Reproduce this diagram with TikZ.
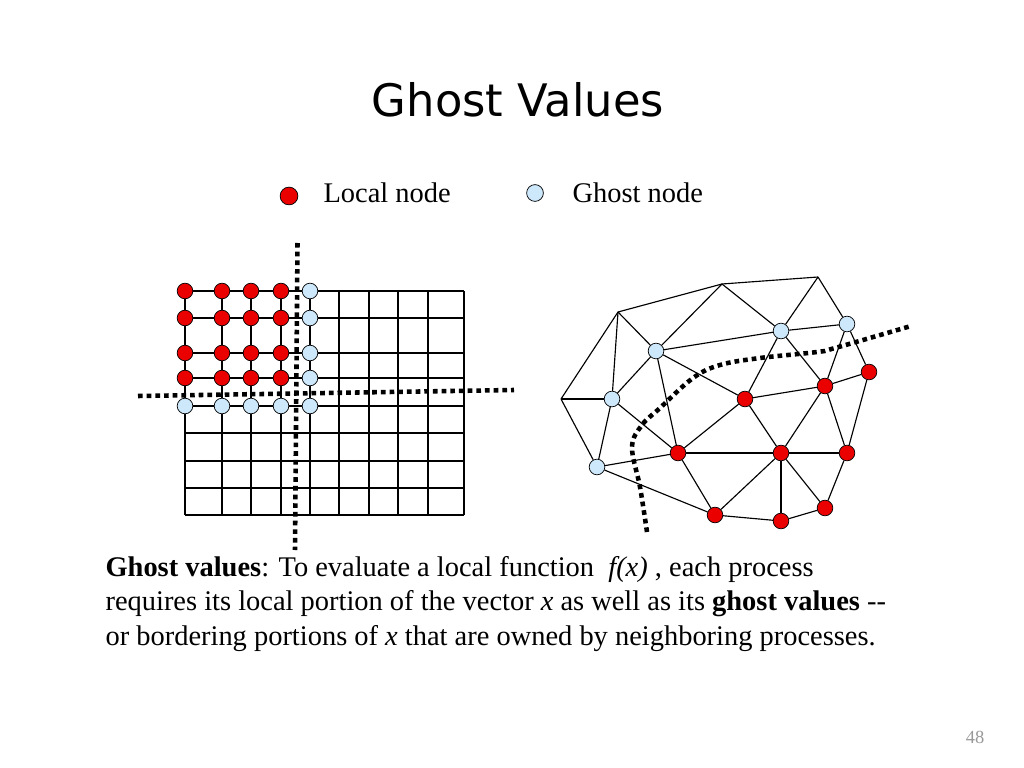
\documentclass[tikz,border=0pt]{standalone}
\usepackage{fontspec}
\setmainfont{Liberation Serif}
\newfontfamily\titlefont{DejaVu Sans}
\usetikzlibrary{calc}
\definecolor{ghostblue}{RGB}{204,232,250}
\definecolor{localred}{RGB}{235,0,0}
\tikzset{
	localnode/.style={circle, draw=black, line width=0.5pt, fill=localred, minimum size=11pt, inner sep=0pt},
	ghostnode/.style={circle, draw=black, line width=0.5pt, fill=ghostblue, minimum size=11pt, inner sep=0pt},
	cut/.style={line width=3.2pt, dash pattern=on 3.3pt off 2.8pt},
	txt/.style={inner sep=0pt, anchor=base west, font=\fontsize{20}{24}\selectfont}
}

\begin{document}
\begin{tikzpicture}[x=0.703125pt, y=-0.703125pt, line width=0.8pt]
	\useasboundingbox (0,0) rectangle (1024,768);
	\fill[white] (0,0) rectangle (1024,768);
	% title and legend
	\node[inner sep=0pt, anchor=base] (title) at (518,117) {\titlefont\fontsize{31.5}{36}\selectfont Ghost Values};
	\node[localnode, minimum size=12.5pt] (keyL) at (289,196) {};
	\node[txt] (keyLtext) at (323,203) {Local node};
	\node[ghostnode, minimum size=11.8pt] (keyG) at (535,193) {};
	\node[txt] (keyGtext) at (572,203) {Ghost node};
	% structured grid
	\foreach \x [count=\i] in {185,222,251,281,310,339,369,398,428,464}
		\foreach \y [count=\j] in {291,318,353,378,406,433,461,488,515}
			\coordinate (c\i-\j) at (\x,\y);
	\foreach \j in {1,...,9} \draw (c1-\j) -- (c10-\j);
	\foreach \i in {1,...,10} \draw (c\i-1) -- (c\i-9);
	\foreach \i in {1,...,4}
		\foreach \j in {1,...,4}
			\node[localnode] (l\i-\j) at (c\i-\j) {};
	\foreach \j in {1,...,5} \node[ghostnode] (h5-\j) at (c5-\j) {};
	\foreach \i in {1,...,4} \node[ghostnode] (h\i-5) at (c\i-5) {};
	\draw[cut] (297.5,243) -- (295,550);
	\draw[cut] (138,396) -- (514,390);
	% unstructured mesh
	\coordinate (mA) at (618,312);
	\coordinate (mB) at (722,284);
	\coordinate (mC) at (818,277);
	\coordinate (mD) at (561,399);
	\node[ghostnode] (g1) at (656,351) {};
	\node[ghostnode] (g2) at (781,331) {};
	\node[ghostnode] (g3) at (847,324) {};
	\node[ghostnode] (g4) at (612,399) {};
	\node[ghostnode] (g5) at (597,467) {};
	\node[localnode] (r1) at (745,399) {};
	\node[localnode] (r2) at (825,386) {};
	\node[localnode] (r3) at (869,372) {};
	\node[localnode] (r4) at (678,453) {};
	\node[localnode] (r5) at (781,453) {};
	\node[localnode] (r6) at (847,453) {};
	\node[localnode] (r7) at (715,515) {};
	\node[localnode] (r8) at (781,521) {};
	\node[localnode] (r9) at (825,508) {};
	\foreach \a/\b in {mA/mB, mB/mC, mC/g3, g3/r3, r3/r6, r6/r9, r9/r8, r8/r7, r7/g5, g5/mD,
		mD/mA, mA/g4, mA/g1, mD/g4, g4/g1, g4/g5, g4/r4, g1/mB, mB/g2, mC/g2, g1/g2, g2/g3,
		g1/r4, g1/r1, g2/r1, g2/r2, g3/r2, r2/r3, r1/r2, r1/r4, r1/r5, r2/r5, r2/r6, r4/r5,
		r5/r6, g5/r4, r4/r7, r5/r7, r5/r8, r5/r9}
		\draw (\a) -- (\b);
	\draw[cut] plot[smooth, tension=0.6] coordinates {(647,532) (640,487) (632,447) (642,425)
		(660,408) (693,378) (720,365) (760,358) (817,352) (835,348) (911,326)};
	% text
	\node[txt] (line1) at (105,576) {\textbf{Ghost values}: To evaluate a local function~ \textit{f(x)} , each process};
	\node[txt] (line2) at (105,610) {requires its local portion of the vector \textit{x} as well as its \textbf{ghost values} -{}-};
	\node[txt] (line3) at (105,645) {or bordering portions of \textit{x} that are owned by neighboring processes.};
	\node[inner sep=0pt, anchor=base east, text=black!40] (pagenum) at (985,743) {\fontsize{13}{16}\selectfont 48};
\end{tikzpicture}
\end{document}
